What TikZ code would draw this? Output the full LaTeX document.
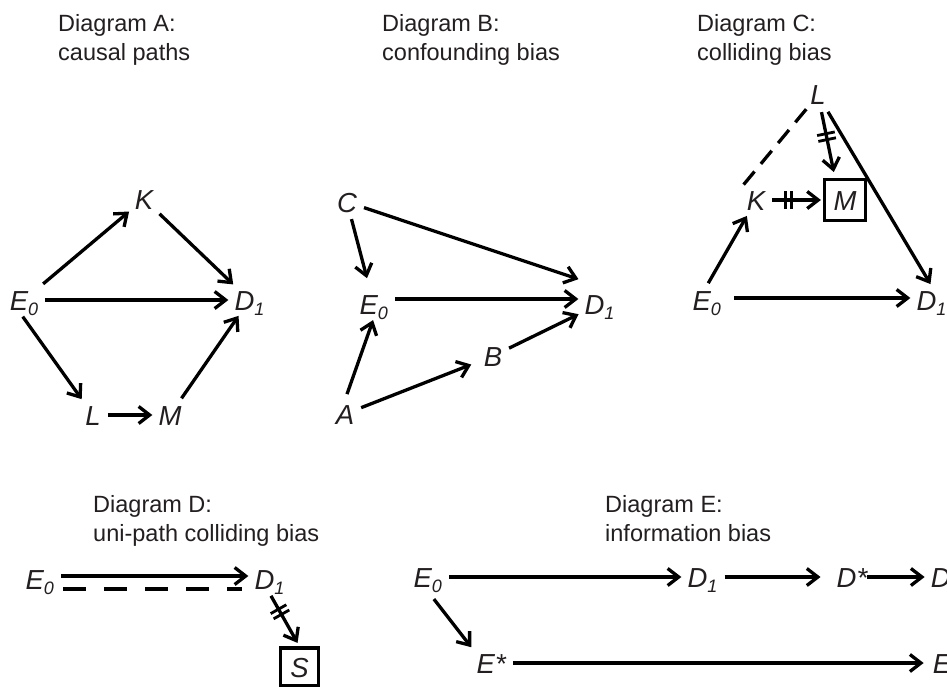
\documentclass[tikz,border=0pt]{standalone}
\usepackage{fontspec}
\setmainfont{Liberation Sans}
\usetikzlibrary{arrows.meta,decorations.markings}

\definecolor{ink}{RGB}{35,31,32}
\newcommand\lowidx[1]{\raisebox{-5.5pt}{\fontsize{18}{18}\selectfont #1}}

\begin{document}
\begin{tikzpicture}[x=1pt, y=-1pt,
	var/.style={font=\fontsize{27.5}{30}\selectfont\itshape, text=ink, inner sep=4pt, text height=20pt, text depth=0pt},
	boxed/.style={var, draw=black, line width=3.2pt, minimum size=41pt, inner sep=0pt},
	head/.style={font=\fontsize{23.5}{29}\selectfont, text=ink, align=left, anchor=base west, inner sep=0pt},
	arr/.style={-{Straight Barb[length=11pt,width=17pt]}, line width=3.3pt, shorten <=3pt, shorten >=2pt},
	gap/.style={line width=3.3pt},
	cutmark/.style={postaction={decorate}, decoration={markings, mark=at position #1 with {\draw[-, solid, line width=2.8pt, shorten <=0pt, shorten >=0pt] (-3pt,-9pt) -- (-3pt,9pt) (3pt,-9pt) -- (3pt,9pt);}}}]
	\useasboundingbox[fill=white] (0,0) rectangle (947,687);

	% Diagram A
	\node[head] (headA) at (58,61) {Diagram A:\\causal paths};
	\node[var] (aK) at (144,199) {K};
	\node[var] (aE) at (24,300) {E\lowidx{0}};
	\node[var] (aD) at (249.5,300) {D\lowidx{1}};
	\node[var] (aL) at (93,415) {L};
	\node[var] (aM) at (170,415) {M};
	\draw[arr] (aE) -- (aK);
	\draw[arr] (aK) -- (aD);
	\draw[arr] (aE) -- (aD);
	\draw[arr] ([xshift=-3pt]aE.south) -- (aL);
	\draw[arr] (aL) -- (aM);
	\draw[arr] (aM) -- (aD);

	% Diagram B
	\node[head] (headB) at (382,61) {Diagram B:\\confounding bias};
	\node[var] (bC) at (347,202) {C};
	\node[var] (bE) at (373.75,304) {E\lowidx{0}};
	\node[var] (bD) at (599.5,304) {D\lowidx{1}};
	\node[var] (bB) at (493,356) {B};
	\node[var] (bA) at (345,414) {A};
	\draw[arr, shorten >=12pt] (bC) -- (bE);
	\draw[arr] (bC) -- ([yshift=10pt]bD.north west);
	\draw[arr] ([yshift=5pt]bE.east) -- ([yshift=5pt]bD.west);
	\draw[arr, shorten <=6pt] (bA.north) -- (bE.south);
	\draw[arr, shorten >=9pt] (bA) -- (bB);
	\draw[arr] (bB) -- (bD);

	% Diagram C
	\node[head] (headC) at (697,61) {Diagram C:\\colliding bias};
	\node[var] (cL) at (818,95) {L};
	\node[var] (cK) at (756,200) {K};
	\node[boxed] (cM) at (845,200) {M};
	\node[var] (cE) at (706.75,300) {E\lowidx{0}};
	\node[var] (cD) at (931.5,300) {D\lowidx{1}};
	\draw[arr] (cL) -- (cD.north);
	\draw[gap, dash pattern=on 17pt off 10pt] (cL) -- (cK.north west);
	\draw[arr, shorten >=6pt, cutmark=0.4] (cL) -- ([xshift=-10pt]cM.north);
	\draw[arr, cutmark=0.35] (cK) -- (cM);
	\draw[arr] (cE.north) -- (cK);
	\draw[arr, shorten <=9pt] ([yshift=2pt]cE.east) -- ([yshift=2pt]cD.west);

	% Diagram D
	\node[head] (headD) at (93,541) {Diagram D:\\uni-path colliding bias};
	\node[var] (dE) at (39.75,579) {E\lowidx{0}};
	\node[var] (dD) at (269.5,579) {D\lowidx{1}};
	\node[boxed, minimum size=38pt] (dS) at (299.5,667) {S};
	\draw[arr] ([yshift=3pt]dE.east) -- ([yshift=3pt]dD.west);
	\draw[gap, dash pattern=on 23pt off 18pt, shorten <=5pt, shorten >=8pt] ([yshift=-10pt]dE.east) -- ([yshift=-10pt]dD.west);
	\draw[arr, shorten >=4pt, cutmark=0.35] (dD.south) -- (dS.north);

	% Diagram E
	\node[head] (headE) at (605,541) {Diagram E:\\information bias};
	\node[var] (eE) at (427.75,577) {E\lowidx{0}};
	\node[var] (eD) at (702.5,577) {D\lowidx{1}};
	\node[var] (eDs) at (852,577) {D*};
	\node[var] (eDend) at (940.75,577) {D};
	\node[var] (eEs) at (491.25,663) {E*};
	\node[var] (eEend) at (942,663) {E};
	\draw[arr] (eE) -- (eD);
	\draw[arr, shorten >=12pt] (eD) -- (eDs);
	\draw[arr, shorten <=-4pt] (eDs) -- (eDend);
	\draw[arr, shorten <=10pt] (eE.south) -- (eEs.north west);
	\draw[arr, shorten >=5pt] (eEs) -- (eEend);
\end{tikzpicture}
\end{document}
